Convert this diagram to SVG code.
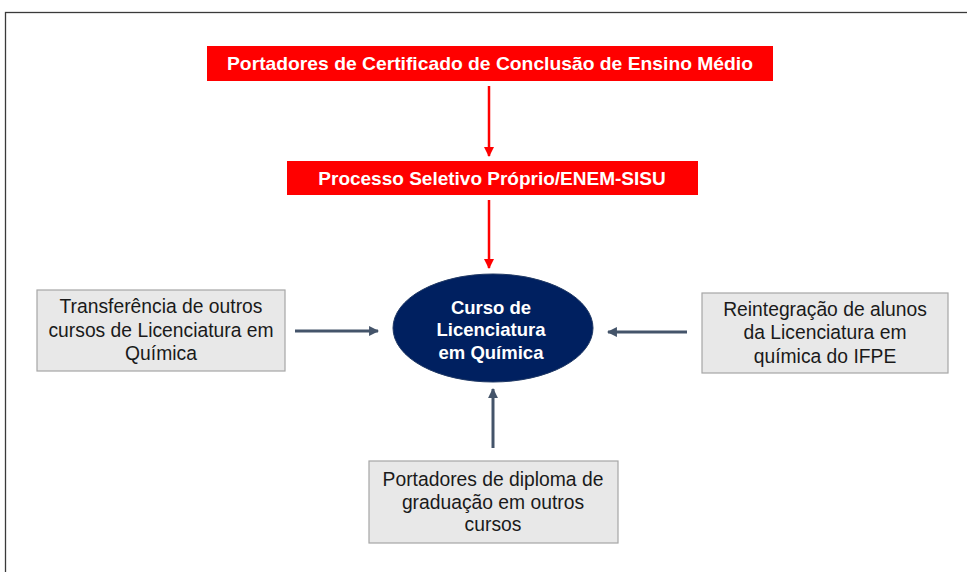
<svg xmlns="http://www.w3.org/2000/svg" width="967" height="572" viewBox="0 0 967 572">
<style>
.red{fill:#ff0000}
.rt{font-family:"Liberation Sans",Arial,sans-serif;font-weight:bold;font-size:19px;fill:#ffffff;text-anchor:middle}
.et{font-family:"Liberation Sans",Arial,sans-serif;font-weight:bold;font-size:18.5px;fill:#ffffff;text-anchor:middle}
.gbox{fill:#e8e8e8;stroke:#a6a6a6;stroke-width:1.2}
.gt{font-family:"Liberation Sans",Arial,sans-serif;font-size:19.3px;fill:#1a1a1a;text-anchor:middle}
.ra{stroke:#ff0000;stroke-width:2.5;fill:none}
.sa{stroke:#44546a;stroke-width:3;fill:none}
</style>
<defs>
<marker id="mr" viewBox="0 0 10 10" refX="9" refY="5" markerWidth="4" markerHeight="4" orient="auto" markerUnits="strokeWidth"><path d="M0,0 L10,5 L0,10 z" fill="#ff0000"/></marker>
<marker id="ms" viewBox="0 0 10 10" refX="9" refY="5" markerWidth="3.3" markerHeight="3.3" orient="auto" markerUnits="strokeWidth"><path d="M0,0 L10,5 L0,10 z" fill="#44546a"/></marker>
</defs>
<rect x="0" y="0" width="967" height="572" fill="#ffffff"/>
<rect x="5.5" y="12.5" width="975" height="580" fill="none" stroke="#3a3a3a" stroke-width="1.3"/>
<g id="connectors">
<line class="ra" x1="489" y1="86" x2="489" y2="156" marker-end="url(#mr)"/>
<line class="ra" x1="489" y1="200" x2="489" y2="268" marker-end="url(#mr)"/>
<line class="sa" x1="295" y1="331" x2="378" y2="331" marker-end="url(#ms)"/>
<line class="sa" x1="687" y1="332" x2="608" y2="332" marker-end="url(#ms)"/>
<line class="sa" x1="493" y1="448" x2="493" y2="389" marker-end="url(#ms)"/>
</g>
<g id="n1">
<rect class="red" x="207" y="46" width="566" height="35"/>
<text class="rt" x="490" y="70" textLength="526" lengthAdjust="spacingAndGlyphs">Portadores de Certificado de Conclusão de Ensino Médio</text>
</g>
<g id="n2">
<rect class="red" x="287" y="161" width="411" height="34"/>
<text class="rt" x="492" y="185">Processo Seletivo Próprio/ENEM-SISU</text>
</g>
<g id="n3">
<ellipse cx="493" cy="328" rx="100" ry="54" fill="#002060" stroke="#1f3864" stroke-width="1"/>
<text class="et" x="491" y="314">Curso de</text>
<text class="et" x="491" y="336">Licenciatura</text>
<text class="et" x="491" y="359">em Química</text>
</g>
<g id="n4">
<rect class="gbox" x="37" y="290" width="248" height="81"/>
<text class="gt" x="161" y="313">Transferência de outros</text>
<text class="gt" x="161" y="337">cursos de Licenciatura em</text>
<text class="gt" x="161" y="360">Química</text>
</g>
<g id="n5">
<rect class="gbox" x="702" y="293" width="246" height="80"/>
<text class="gt" x="825" y="316">Reintegração de alunos</text>
<text class="gt" x="825" y="339">da Licenciatura em</text>
<text class="gt" x="825" y="363">química do IFPE</text>
</g>
<g id="n6">
<rect class="gbox" x="369" y="461" width="249" height="82"/>
<text class="gt" x="493" y="486">Portadores de diploma de</text>
<text class="gt" x="493" y="509">graduação em outros</text>
<text class="gt" x="493" y="531">cursos</text>
</g>
</svg>
